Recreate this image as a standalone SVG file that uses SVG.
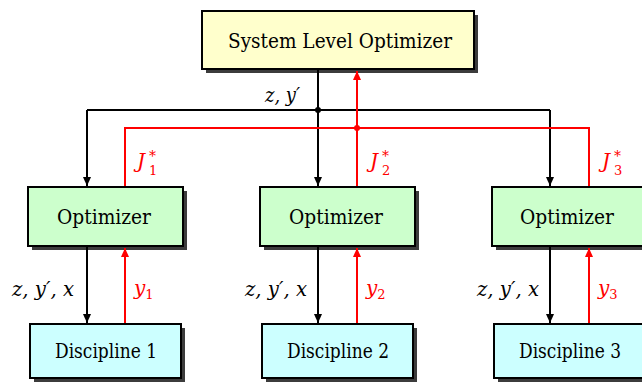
<svg xmlns="http://www.w3.org/2000/svg" width="642" height="386" viewBox="0 0 642 386">
<defs>
<style>
text{font-family:"DejaVu Serif","Liberation Serif",serif}
.box{stroke:#000;stroke-width:2}
.shadow{fill:#3c3c3c}
.slo{fill:#ffffcc}
.opt{fill:#ccffcc}
.disc{fill:#ccffff}
.lbl{font-size:21px;fill:#000;text-anchor:middle}
.dl{font-size:20px}
.math{font-style:italic;font-size:20px}
.sub{font-style:normal;font-size:13px}
.sup{font-style:normal;font-size:14px}
.blk{stroke:#000;stroke-width:2;fill:none}
.red{stroke:#ff0000;stroke-width:2;fill:none}
.mb{fill:#000}
.mr{fill:#ff0000}
</style>
<marker id="ab" markerWidth="10" markerHeight="8" refX="9" refY="4" orient="auto" markerUnits="userSpaceOnUse"><path d="M0,0 L9,4 L0,8 Z" class="mb"/></marker>
<marker id="ar" markerWidth="10" markerHeight="8" refX="9" refY="4" orient="auto" markerUnits="userSpaceOnUse"><path d="M0,0 L9,4 L0,8 Z" class="mr"/></marker>
</defs>
<rect width="642" height="386" fill="#fff"/>

<g id="slo">
<rect class="shadow" x="206" y="15" width="272" height="58"/>
<rect class="box slo" x="202" y="11" width="272" height="58"/>
<text class="lbl" x="340" y="48" textLength="224" lengthAdjust="spacingAndGlyphs">System Level Optimizer</text>
</g>

<g id="opt1">
<rect class="shadow" x="32" y="191" width="155" height="59"/>
<rect class="box opt" x="28" y="187" width="155" height="59"/>
<text class="lbl" x="104" y="224" textLength="94" lengthAdjust="spacingAndGlyphs">Optimizer</text>
</g>
<g id="opt2">
<rect class="shadow" x="264" y="191" width="155" height="59"/>
<rect class="box opt" x="260" y="187" width="155" height="59"/>
<text class="lbl" x="336" y="224" textLength="94" lengthAdjust="spacingAndGlyphs">Optimizer</text>
</g>
<g id="opt3">
<rect class="shadow" x="496" y="191" width="155" height="59"/>
<rect class="box opt" x="492" y="187" width="155" height="59"/>
<text class="lbl" x="567" y="224" textLength="94" lengthAdjust="spacingAndGlyphs">Optimizer</text>
</g>

<g id="disc1">
<rect class="shadow" x="34" y="328" width="151" height="54"/>
<rect class="box disc" x="30" y="324" width="151" height="54"/>
<text class="lbl dl" x="106" y="358" textLength="102" lengthAdjust="spacingAndGlyphs">Discipline 1</text>
</g>
<g id="disc2">
<rect class="shadow" x="266" y="328" width="151" height="54"/>
<rect class="box disc" x="262" y="324" width="151" height="54"/>
<text class="lbl dl" x="338" y="358" textLength="102" lengthAdjust="spacingAndGlyphs">Discipline 2</text>
</g>
<g id="disc3">
<rect class="shadow" x="498" y="328" width="151" height="54"/>
<rect class="box disc" x="494" y="324" width="151" height="54"/>
<text class="lbl dl" x="570" y="358" textLength="102" lengthAdjust="spacingAndGlyphs">Discipline 3</text>
</g>

<g id="connectors">
<path class="blk" d="M87,110 H550"/>
<path class="blk" d="M318,70 V186" marker-end="url(#ab)"/>
<path class="blk" d="M87,110 V186" marker-end="url(#ab)"/>
<path class="blk" d="M550,110 V186" marker-end="url(#ab)"/>
<path class="blk" d="M87,247 V323" marker-end="url(#ab)"/>
<path class="blk" d="M318,247 V323" marker-end="url(#ab)"/>
<path class="blk" d="M550,247 V323" marker-end="url(#ab)"/>
<circle cx="318" cy="110" r="3" class="mb"/>
<path class="red" d="M125,186 V128 H589 V186"/>
<path class="red" d="M357,186 V128"/>
<path class="red" d="M357,128 V71" marker-end="url(#ar)"/>
<path class="red" d="M125,323 V248" marker-end="url(#ar)"/>
<path class="red" d="M357,323 V248" marker-end="url(#ar)"/>
<path class="red" d="M589,323 V248" marker-end="url(#ar)"/>
<circle cx="357" cy="128" r="3" class="mr"/>
</g>

<g id="labels">
<text class="math" x="265" y="102" textLength="35" lengthAdjust="spacingAndGlyphs">z, y′</text>
<text class="math" x="12" y="296" textLength="62" lengthAdjust="spacingAndGlyphs">z, y′, x</text>
<text class="math" x="245" y="296" textLength="62" lengthAdjust="spacingAndGlyphs">z, y′, x</text>
<text class="math" x="477" y="296" textLength="62" lengthAdjust="spacingAndGlyphs">z, y′, x</text>
<g fill="#ff0000">
<text class="math" x="137" y="168">J</text><text class="sub" x="149" y="175">1</text><text class="sup" x="149" y="161">*</text>
<text class="math" x="370" y="168">J</text><text class="sub" x="382" y="175">2</text><text class="sup" x="382" y="161">*</text>
<text class="math" x="602" y="168">J</text><text class="sub" x="614" y="175">3</text><text class="sup" x="614" y="161">*</text>
<text class="math" x="134" y="295">y<tspan class="sub" dy="4">1</tspan></text>
<text class="math" x="366" y="295">y<tspan class="sub" dy="4">2</tspan></text>
<text class="math" x="598" y="295">y<tspan class="sub" dy="4">3</tspan></text>
</g>
</g>
</svg>
